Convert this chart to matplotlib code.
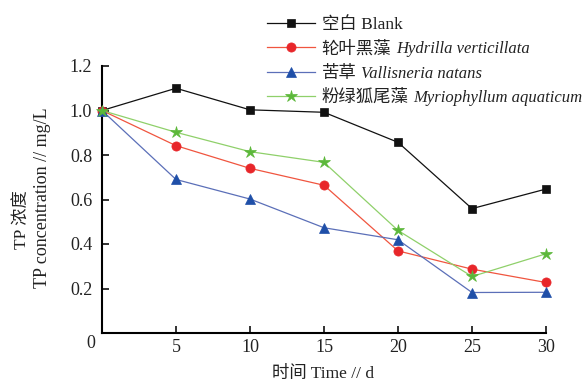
import matplotlib
matplotlib.use("Agg")
import matplotlib.pyplot as plt

plt.rcParams['font.family'] = ['Liberation Serif', 'Noto Sans CJK SC']

days = [0, 5, 10, 15, 20, 25, 30]
blank = [1.0, 1.10, 1.003, 0.992, 0.857, 0.559, 0.647]
hydrilla = [1.0, 0.842, 0.740, 0.664, 0.369, 0.287, 0.227]
vallisneria = [1.0, 0.690, 0.602, 0.473, 0.419, 0.182, 0.183]
myriophyllum = [1.0, 0.902, 0.815, 0.767, 0.461, 0.254, 0.356]

cn_names = ["空白 Blank", "轮叶黑藻", "苦草", "粉绿狐尾藻"]
latin_names = ["", "Hydrilla verticillata", "Vallisneria natans", "Myriophyllum aquaticum"]

xticks = [5, 10, 15, 20, 25, 30]
yticks = [0.2, 0.4, 0.6, 0.8, 1.0, 1.2]

W, H = 583, 382
fig = plt.figure(figsize=(W / 100, H / 100), dpi=100)
fig.patch.set_facecolor('white')
ax = fig.add_axes([102 / W, 1 - 333 / H, (546 - 102) / W, (333 - 66) / H])

series = [
    (blank, '#111111', '#111111', 's', 5.8),
    (hydrilla, '#f0553f', '#e8262a', 'o', 6.6),
    (vallisneria, '#5b6fb8', '#1f4fa8', '^', 7.4),
    (myriophyllum, '#8fd06a', '#5cb83a', '*', 9.0),
]
handles = []
for vals, lc, mc, mk, ms in series:
    h, = ax.plot(days, vals, color=lc, lw=0.9, marker=mk, markersize=ms,
                 markerfacecolor=mc, markeredgecolor=mc, markeredgewidth=0.5,
                 clip_on=False, zorder=3)
    handles.append(h)

ax.set_xlim(0, 30)
ax.set_ylim(0, 1.2)
ax.set_xticks(xticks)
ax.set_yticks(yticks)
ax.set_xticklabels([str(t) for t in xticks])
ax.set_yticklabels([f"{t:.1f}" for t in yticks])
for s in ('top', 'right'):
    ax.spines[s].set_visible(False)
for s in ('left', 'bottom'):
    ax.spines[s].set_linewidth(1.5)
ax.tick_params(direction='in', length=5, width=1.3, labelsize=13, pad=7,
               colors='#222222')
ax.tick_params(axis='x', pad=4)
ax.patch.set_alpha(0)

# shared origin label
fig.text(91 / W, 1 - 343 / H, "0", ha='center', va='center', fontsize=13,
         color='#222222')

# axis titles
fig.text(323 / W, 1 - 374 / H, "时间 Time // d", ha='center', va='center',
         fontsize=12.5, color='#222222')
fig.text(23 / W, 1 - 220 / H, "TP 浓度", rotation=90, ha='center',
         va='center', fontsize=12.5, color='#222222')
fig.text(43 / W, 1 - 198 / H, "TP concentration // mg/L", rotation=90,
         ha='center', va='center', fontsize=13, color='#222222')

leg = fig.legend(handles, cn_names, loc='upper left',
                 bbox_to_anchor=(267 / W, 1 - 17 / H), frameon=False,
                 fontsize=12.5, handlelength=2.75, handletextpad=0.4,
                 labelspacing=0.46, borderpad=0, borderaxespad=0)
for t in leg.get_texts():
    t.set_color('#222222')

# italic species names placed after the Chinese names
fig.canvas.draw()
renderer = fig.canvas.get_renderer()
for txt, latin in zip(leg.get_texts(), latin_names):
    if not latin:
        continue
    bb = txt.get_window_extent(renderer)
    fig.text((bb.x1 + 5) / W, (bb.y0 + bb.y1) / 2 / H, latin,
             style='italic', ha='left', va='center', fontsize=12,
             color='#222222')

fig.savefig("out.png", dpi=100)
